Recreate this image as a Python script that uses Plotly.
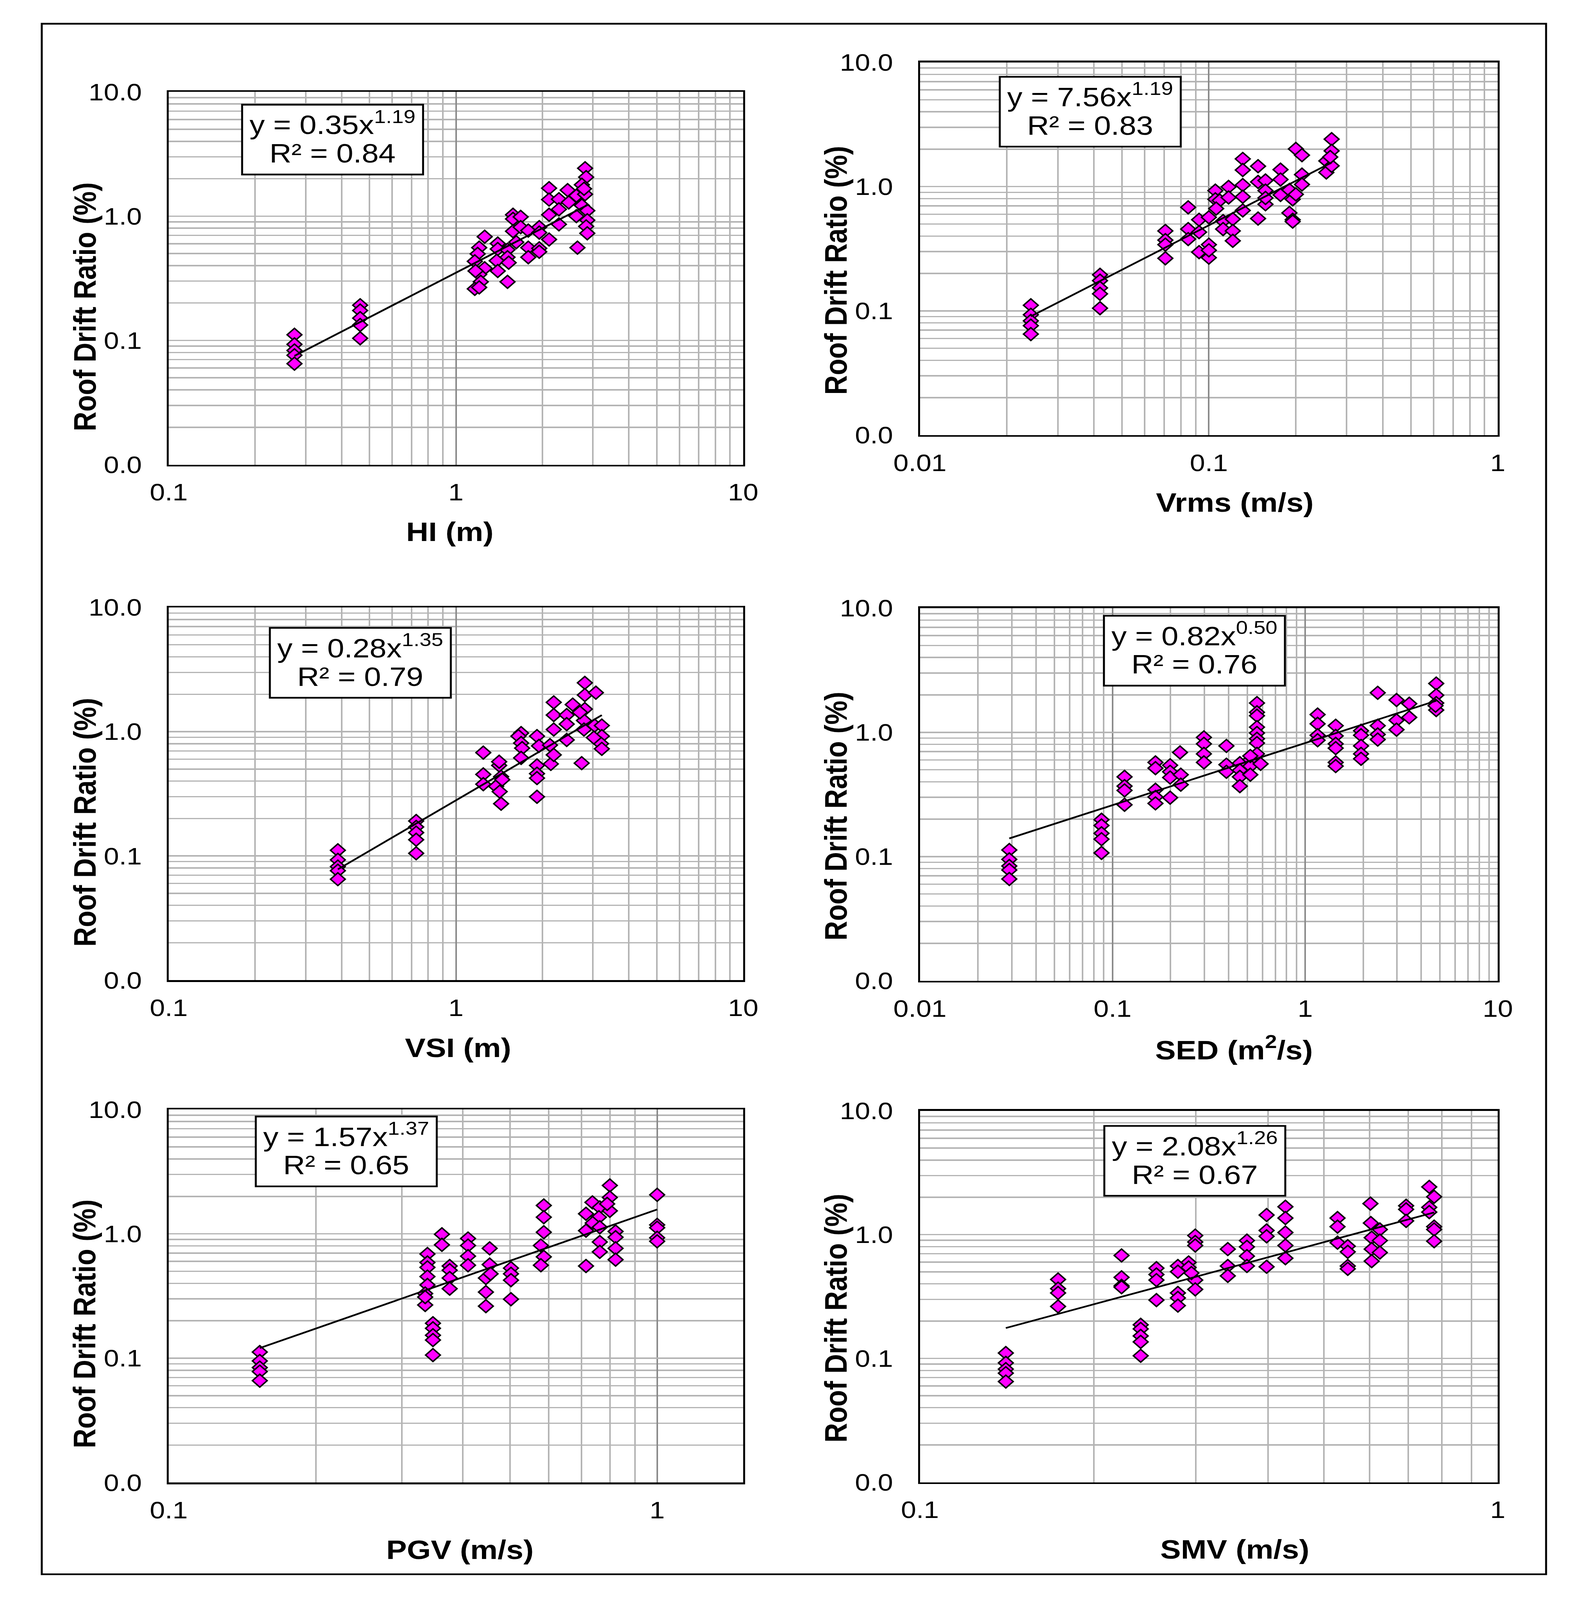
import plotly.graph_objects as go

W, H = 4033, 4684

# ---------------- data ----------------
hi_x = [0.274, 0.274, 0.274, 0.274, 0.274,
        0.464, 0.464, 0.464, 0.464, 0.464,
        1.259, 1.205, 1.19, 1.163, 1.259, 1.205, 1.17, 1.22, 1.163, 1.205,
        1.398, 1.398, 1.386, 1.398, 1.512, 1.512, 1.526, 1.512,
        1.580, 1.580, 1.680, 1.580, 1.680, 1.786, 1.622, 1.786, 1.786,
        1.950, 1.950, 1.950, 1.950,
        2.110, 2.110, 2.110, 2.110,
        2.283, 2.283, 2.283,
        2.448, 2.47, 2.626, 2.649,
        2.816, 2.84, 2.816, 2.744, 2.744, 2.866, 2.866, 2.84, 2.866, 2.626, 2.792]
hi_y = [0.111, 0.093, 0.083, 0.076, 0.065,
        0.192, 0.174, 0.151, 0.133, 0.104,
        0.683, 0.558, 0.497, 0.433, 0.381, 0.340, 0.362, 0.296, 0.260, 0.267,
        0.602, 0.544, 0.438, 0.362, 0.537, 0.467, 0.422, 0.296,
        1.026, 0.95, 0.987, 0.756, 0.816, 0.766, 0.617, 0.558, 0.467,
        0.816, 0.737, 0.551, 0.517,
        1.68, 1.36, 1.026, 0.649,
        1.37, 1.135, 0.859,
        1.62, 1.29, 1.46, 0.558,
        2.43, 2.06, 1.50, 1.79, 1.22, 1.107, 0.927, 0.827, 0.728, 1.0, 1.66]

vrms_x = [0.0242, 0.0242, 0.0242, 0.0242, 0.0242,
          0.042, 0.042, 0.042, 0.042, 0.042,
          0.0707, 0.0707, 0.0707, 0.0707,
          0.0848, 0.0848, 0.0848,
          0.0925, 0.0925, 0.0925,
          0.1, 0.1, 0.1, 0.1,
          0.1053, 0.1053, 0.109, 0.106,
          0.112, 0.112,
          0.117, 0.117,
          0.121, 0.121, 0.121,
          0.131, 0.131, 0.131, 0.131, 0.131,
          0.148, 0.148, 0.148,
          0.157, 0.157, 0.157, 0.157,
          0.177, 0.177, 0.177,
          0.19, 0.195, 0.19, 0.195,
          0.2, 0.21, 0.21, 0.21, 0.2, 0.195,
          0.255, 0.255, 0.266, 0.266, 0.266, 0.263]
vrms_y = [0.111, 0.093, 0.083, 0.076, 0.065,
          0.195, 0.175, 0.153, 0.137, 0.105,
          0.44, 0.371, 0.341, 0.265,
          0.681, 0.455, 0.378,
          0.541, 0.43, 0.297,
          0.566, 0.341, 0.268, 0.307,
          0.929, 0.79, 0.773, 0.665,
          0.528, 0.455,
          0.995, 0.818,
          0.547, 0.44, 0.366,
          1.67, 1.36, 1.03, 0.828, 0.643,
          1.46, 1.09, 0.553,
          1.12, 0.929, 0.721, 0.81,
          1.37, 1.14, 0.857,
          0.94, 0.79, 0.614, 0.541,
          2.01, 1.79, 1.25, 1.04, 0.866, 0.523,
          1.61, 1.30, 2.41, 1.94, 1.47, 1.73]

vsi_x = [0.388, 0.388, 0.388, 0.388, 0.388,
         0.727, 0.727, 0.727, 0.727, 0.727,
         1.245, 1.245, 1.245,
         1.414, 1.414, 1.436, 1.38, 1.42, 1.436, 1.45,
         1.686, 1.65, 1.686, 1.70, 1.686,
         1.915, 1.946, 1.915, 1.915, 1.915, 1.915,
         2.125, 2.14, 2.19, 2.19, 2.19, 2.19,
         2.43, 2.43, 2.43,
         2.55,
         2.81, 2.81, 2.81, 2.79, 2.79, 2.7, 2.74,
         3.07, 3.04, 3.22, 3.22, 3.2, 3.22, 3.02]
vsi_y = [0.111, 0.093, 0.082, 0.076, 0.065,
         0.191, 0.171, 0.154, 0.135, 0.105,
         0.678, 0.453, 0.378,
         0.535, 0.573, 0.434, 0.363, 0.329, 0.263, 0.411,
         0.973, 0.92, 0.81, 0.737, 0.615,
         0.92, 0.768, 0.535, 0.459, 0.423, 0.299,
         0.779, 0.55, 0.65, 1.04, 1.72, 1.36,
         1.36, 1.15, 0.858,
         1.65,
         2.47, 1.97, 1.52, 1.23, 1.04, 1.43, 0.558,
         2.06, 1.12, 1.12, 0.92, 0.80, 0.727, 0.895]

sed_x = [0.0291, 0.0291, 0.0291, 0.0291, 0.0291,
         0.0876, 0.0876, 0.0876, 0.0876, 0.0876,
         0.1154, 0.1154, 0.1154, 0.1154,
         0.167, 0.167, 0.167, 0.167, 0.167,
         0.199, 0.199, 0.199, 0.199,
         0.224, 0.226, 0.226,
         0.298, 0.298, 0.298, 0.298,
         0.39, 0.39, 0.39,
         0.458, 0.458, 0.458, 0.458,
         0.519, 0.519, 0.519,
         0.562, 0.562, 0.562, 0.562, 0.562, 0.562, 0.562, 0.562, 0.587, 0.519,
         1.16, 1.16, 1.16, 1.16,
         1.44, 1.44, 1.44, 1.44, 1.44, 1.44,
         1.95, 1.95, 1.95, 1.95, 1.95,
         2.38, 2.38, 2.38, 2.38,
         2.98, 2.98, 2.98,
         3.47, 3.47,
         4.79, 4.79, 4.79, 4.79, 4.75]
sed_y = [0.113, 0.095, 0.084, 0.078, 0.066,
         0.198, 0.178, 0.154, 0.138, 0.107,
         0.438, 0.369, 0.341, 0.261,
         0.573, 0.515, 0.345, 0.302, 0.268,
         0.543, 0.481, 0.433, 0.298,
         0.689, 0.456, 0.379,
         0.911, 0.808, 0.671, 0.573,
         0.777, 0.549, 0.481,
         0.565, 0.495, 0.438, 0.369,
         0.603, 0.535, 0.456,
         1.72, 1.45, 1.36, 1.10, 0.987, 0.887, 0.819, 0.671, 0.557, 0.645,
         1.39, 1.17, 0.948, 0.864,
         1.13, 0.936, 0.808, 0.746, 0.573, 0.535,
         1.03, 0.948, 0.777, 0.671, 0.612,
         2.08, 1.13, 0.961, 0.875,
         1.82, 1.25, 1.05,
         1.70, 1.32,
         2.47, 1.99, 1.72, 1.51, 1.64]

pgv_x = [0.1536, 0.1536, 0.1536, 0.1536, 0.1536,
         0.3475, 0.3475, 0.3475, 0.3475, 0.3475,
         0.3386, 0.3386, 0.3386, 0.3386, 0.3386, 0.335, 0.335, 0.335,
         0.3625, 0.3625,
         0.376, 0.376, 0.376, 0.376,
         0.41, 0.41, 0.41, 0.41,
         0.454, 0.454, 0.446, 0.446, 0.446, 0.456,
         0.502, 0.502, 0.502, 0.502,
         0.586, 0.586, 0.586, 0.578, 0.586, 0.578,
         0.715, 0.715, 0.715,
         0.737, 0.763, 0.76, 0.738, 0.763, 0.763, 0.763,
         0.80, 0.80, 0.80, 0.79,
         0.822, 0.822, 0.822, 0.822,
         1.0, 1.0, 1.0, 1.0, 1.0]
pgv_y = [0.112, 0.095, 0.084, 0.078, 0.066,
         0.191, 0.174, 0.153, 0.14, 0.106,
         0.688, 0.588, 0.537, 0.453, 0.388, 0.331, 0.268, 0.31,
         0.992, 0.816,
         0.551, 0.51, 0.441, 0.362,
         0.917, 0.805, 0.662, 0.559,
         0.764, 0.566, 0.441, 0.34, 0.262, 0.477,
         0.53, 0.477, 0.424, 0.298,
         1.69, 1.36, 1.03, 0.805, 0.653, 0.559,
         0.551, 1.45, 1.06,
         1.79, 1.63, 1.36, 1.22, 0.86, 0.716, 1.13,
         2.45, 1.96, 1.53, 1.74,
         1.045, 0.94, 0.764, 0.62,
         2.06, 1.18, 1.12, 0.93, 0.87]

smv_x = [0.1408, 0.1408, 0.1408, 0.1408, 0.1408,
         0.241, 0.241, 0.241, 0.241, 0.241,
         0.1734, 0.1734, 0.1734, 0.1734,
         0.2233, 0.2233, 0.2233, 0.2233,
         0.2566, 0.2566, 0.2566, 0.2566,
         0.2795, 0.2795, 0.2795, 0.2795, 0.2795,
         0.2917, 0.2917,
         0.2995, 0.2995, 0.2995, 0.2995, 0.2995, 0.295,
         0.341, 0.341, 0.341,
         0.368, 0.368, 0.368, 0.368,
         0.398, 0.398, 0.398, 0.398,
         0.429, 0.429, 0.429, 0.429, 0.429,
         0.528, 0.528, 0.528,
         0.55, 0.55, 0.55, 0.55,
         0.602, 0.603, 0.605, 0.605, 0.605,
         0.625, 0.625, 0.625,
         0.694, 0.694, 0.694,
         0.761, 0.776, 0.761, 0.761, 0.776, 0.776, 0.776]
smv_y = [0.1105, 0.092, 0.082, 0.076, 0.065,
         0.187, 0.173, 0.152, 0.136, 0.105,
         0.434, 0.366, 0.338, 0.263,
         0.679, 0.452, 0.386, 0.376,
         0.536, 0.476, 0.429, 0.296,
         0.558, 0.502, 0.338, 0.308, 0.267,
         0.596, 0.543,
         0.982, 0.872, 0.817, 0.429, 0.361, 0.489,
         0.764, 0.558, 0.464,
         0.895, 0.796, 0.67, 0.558,
         1.44, 1.08, 0.969, 0.55,
         1.68, 1.36, 1.04, 0.817, 0.645,
         1.36, 1.16, 0.861,
         0.806, 0.726, 0.558, 0.529,
         1.78, 1.24, 0.944, 0.764, 0.611,
         1.10, 0.895, 0.716,
         1.71, 1.60, 1.29,
         2.43, 2.02, 1.66, 1.52, 1.16, 1.10, 0.884]

# power-law trend lines (end points), equations and R^2 as labelled
hi_trend_x, hi_trend_y = [0.274, 2.87], [0.0751, 1.23]
vrms_trend_x, vrms_trend_y = [0.0242, 0.266], [0.0903, 1.563]
vsi_trend_x, vsi_trend_y = [0.388, 3.22], [0.078, 1.358]
sed_trend_x, sed_trend_y = [0.0291, 4.79], [0.140, 1.795]
pgv_trend_x, pgv_trend_y = [0.1536, 1.0], [0.1206, 1.57]
smv_trend_x, smv_trend_y = [0.1408, 0.776], [0.176, 1.511]

eq_coef = ["0.35", "7.56", "0.28", "0.82", "1.57", "2.08"]
eq_exp = ["1.19", "1.19", "1.35", "0.50", "1.37", "1.26"]
eq_r2 = ["0.84", "0.83", "0.79", "0.76", "0.65", "0.67"]

x_titles = ["HI (m)", "Vrms (m/s)", "VSI (m)", "SED (m<sup>2</sup>/s)", "PGV (m/s)", "SMV (m/s)"]
y_title = "Roof Drift Ratio (%)"
y_tickvals = [0.01, 0.1, 1, 10]
y_ticktext = ["0.0", "0.1", "1.0", "10.0"]

# ---------------- layout geometry (pixels) ----------------
FONT = "Liberation Sans, Arial, sans-serif"
TICK_FS = 70
TITLE_FS = 79
EQ_FS = 78
GRID_LIGHT = "#b4b4b4"
GRID_DARK = "#8a8a8a"

LEFT_COL = (374, 1885)
RIGHT_COL = (2350, 3870)

panels = [
    dict(x=hi_x, y=hi_y, tx=hi_trend_x, ty=hi_trend_y, col=LEFT_COL, top=234, bot=1344,
         xr=(-1, 1), xt=[0.1, 1, 10], xtt=["0.1", "1", "10"], tcx=1114, ytdy=85, box=(567, 272)),
    dict(x=vrms_x, y=vrms_y, tx=vrms_trend_x, ty=vrms_trend_y, col=RIGHT_COL, top=146, bot=1256,
         xr=(-2, 0), xt=[0.01, 0.1, 1], xtt=["0.01", "0.1", "1"], tcx=3178, ytdy=65, box=(2560, 189)),
    dict(x=vsi_x, y=vsi_y, tx=vsi_trend_x, ty=vsi_trend_y, col=LEFT_COL, top=1769, bot=2879,
         xr=(-1, 1), xt=[0.1, 1, 10], xtt=["0.1", "1", "10"], tcx=1135, ytdy=85, box=(640, 1830)),
    dict(x=sed_x, y=sed_y, tx=sed_trend_x, ty=sed_trend_y, col=RIGHT_COL, top=1771, bot=2881,
         xr=(-2, 1), xt=[0.01, 0.1, 1, 10], xtt=["0.01", "0.1", "1", "10"], tcx=3176, ytdy=65, box=(2834, 1794)),
    dict(x=pgv_x, y=pgv_y, tx=pgv_trend_x, ty=pgv_trend_y, col=LEFT_COL, top=3264, bot=4375,
         xr=(-1, 0.1761), xt=[0.1, 1], xtt=["0.1", "1"], tcx=1140, ytdy=83, box=(603, 3285)),
    dict(x=smv_x, y=smv_y, tx=smv_trend_x, ty=smv_trend_y, col=RIGHT_COL, top=3268, bot=4374,
         xr=(-1, 0), xt=[0.1, 1], xtt=["0.1", "1"], tcx=3178, ytdy=65, box=(2835, 3313)),
]
BOX_W, BOX_H = 476, 208


def px(v):
    return v / W


def py(v):
    return 1 - v / H


def minor_vals(lo, hi):
    out = []
    for d in range(int(lo) - 1, int(hi) + 2):
        for k in range(2, 10):
            v = k * 10 ** d
            if 10 ** lo < v < 10 ** hi:
                out.append(v)
    return out


fig = go.Figure()
layout = dict(
    width=W, height=H, autosize=False, margin=dict(l=0, r=0, t=0, b=0, pad=0),
    paper_bgcolor="white", plot_bgcolor="white", showlegend=False,
    font=dict(family=FONT, color="black"),
)
shapes, annotations = [], []

for i, p in enumerate(panels):
    n = "" if i == 0 else str(i + 1)
    xa, ya = "x" + n, "y" + n
    fig.add_trace(go.Scatter(
        x=p["x"], y=p["y"], mode="markers", xaxis=xa, yaxis=ya,
        marker=dict(symbol="diamond", size=29, color="#ff00ff",
                    line=dict(color="black", width=4)),
        hoverinfo="skip"))
    fig.add_trace(go.Scatter(
        x=p["tx"], y=p["ty"], mode="lines", xaxis=xa, yaxis=ya,
        line=dict(color="black", width=5), hoverinfo="skip"))

    x0, x1 = p["col"]
    common = dict(type="log", showline=True, linecolor="black", linewidth=5, mirror=True,
                  ticks="", zeroline=False, tickfont=dict(family=FONT, size=TICK_FS, color="black"),
                  tickmode="array", fixedrange=True)
    layout["xaxis" + n] = dict(
        common, domain=[px(x0), px(x1)], range=list(p["xr"]), anchor=ya,
        tickvals=p["xt"], ticktext=p["xtt"], ticklabelstandoff=16,
        showgrid=True, gridcolor=GRID_DARK, gridwidth=4,
        minor=dict(tickvals=minor_vals(*p["xr"]), showgrid=True, gridcolor=GRID_LIGHT, gridwidth=4, ticks=""))
    layout["yaxis" + n] = dict(
        common, domain=[py(p["bot"]), py(p["top"])], range=[-2, 1], anchor=xa,
        tickvals=y_tickvals, ticktext=y_ticktext, ticklabelstandoff=50,
        showgrid=True, gridcolor=GRID_LIGHT, gridwidth=4,
        minor=dict(tickvals=minor_vals(-2, 1), showgrid=True, gridcolor=GRID_LIGHT, gridwidth=4, ticks=""))

    # equation box
    bx, by = p["box"]
    shapes.append(dict(type="rect", xref="paper", yref="paper", layer="above",
                       x0=px(bx), x1=px(bx + BOX_W), y0=py(by + BOX_H), y1=py(by),
                       line=dict(color="black", width=5), fillcolor="white"))
    annotations.append(dict(xref="paper", yref="paper", x=px(bx + BOX_W / 2), y=py(by + 55),
                            xanchor="center", yanchor="middle", showarrow=False,
                            text="y = %sx<sup>%s</sup>" % (eq_coef[i], eq_exp[i]),
                            font=dict(family=FONT, size=EQ_FS, color="black")))
    annotations.append(dict(xref="paper", yref="paper", x=px(bx + BOX_W / 2), y=py(by + 145),
                            xanchor="center", yanchor="middle", showarrow=False,
                            text="R² = %s" % eq_r2[i],
                            font=dict(family=FONT, size=EQ_FS, color="black")))
    # axis titles
    annotations.append(dict(xref="paper", yref="paper", x=px(p["tcx"]), y=py(p["bot"] + 200),
                            xanchor="center", yanchor="middle", showarrow=False,
                            text="<b>%s</b>" % x_titles[i],
                            font=dict(family=FONT, size=TITLE_FS, color="black")))
    annotations.append(dict(xref="paper", yref="paper", x=px(x0 - 221),
                            y=py((p["top"] + p["bot"]) / 2 + p["ytdy"]),
                            xanchor="center", yanchor="middle", showarrow=False, textangle=-90,
                            text="<b>%s</b>" % y_title,
                            font=dict(family=FONT, size=TITLE_FS, color="black")))

# outer frame
shapes.append(dict(type="rect", xref="paper", yref="paper", layer="above",
                   x0=px(40), x1=px(3997), y0=py(4648), y1=py(31),
                   line=dict(color="black", width=5), fillcolor="rgba(0,0,0,0)"))

layout["shapes"] = shapes
layout["annotations"] = annotations
fig.update_layout(**layout)

# make the fixed-size figure fill whatever viewport the page is shown in
post = """
var gd = document.getElementById('{plot_id}');
var de = document.documentElement, bd = document.body;
de.style.margin = '0'; de.style.padding = '0'; de.style.overflow = 'hidden'; de.style.background = 'white';
bd.style.margin = '0'; bd.style.padding = '0'; bd.style.overflow = 'hidden'; bd.style.background = 'white';
var sx = window.innerWidth / %d, sy = window.innerHeight / %d;
gd.style.position = 'absolute';
gd.style.left = '0px';
gd.style.top = '0px';
gd.style.transformOrigin = '0 0';
gd.style.transform = 'scale(' + sx + ',' + sy + ')';
""" % (W, H)

fig.write_html("out.html", config={"displayModeBar": False, "staticPlot": True}, post_script=post)
